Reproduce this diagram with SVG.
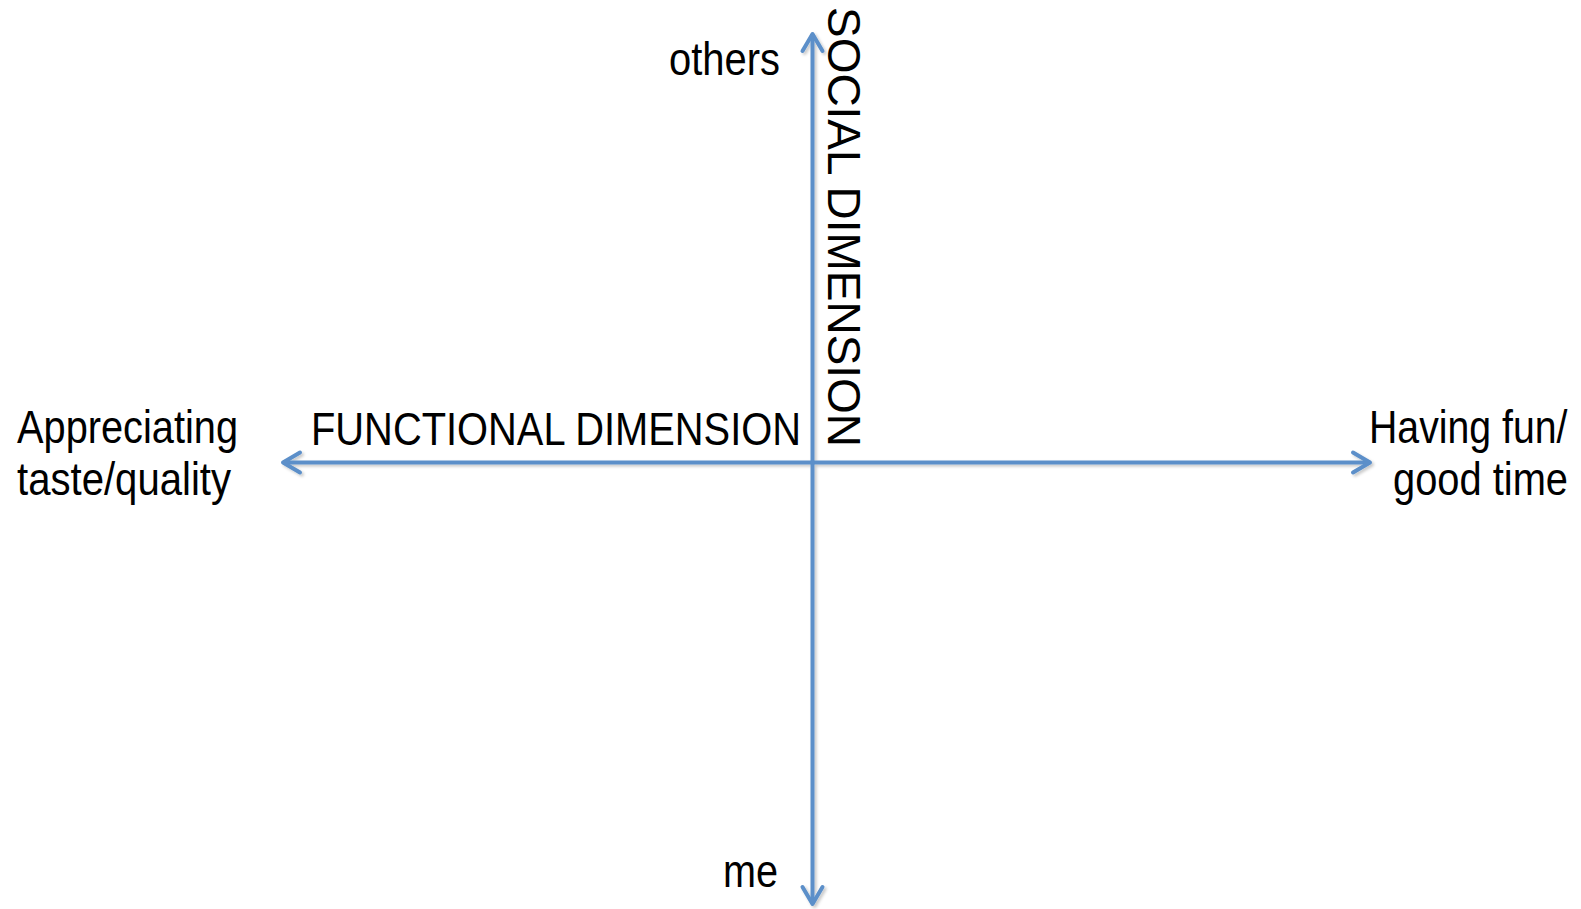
<svg xmlns="http://www.w3.org/2000/svg" width="1581" height="909" viewBox="0 0 1581 909">
<style>
.lbl{font-family:"Liberation Sans",Arial,Helvetica,sans-serif;font-size:47px;fill:#000;}
.axis{fill:none;stroke:#5B8FC9;stroke-width:4;}
.head{fill:none;stroke:#5B8FC9;stroke-width:4;stroke-linecap:round;stroke-linejoin:round;}
</style>
<defs>
<filter id="sh" x="-5%" y="-5%" width="110%" height="110%">
<feDropShadow dx="2" dy="2" stdDeviation="1.5" flood-color="#000" flood-opacity="0.22"/>
</filter>
<marker id="arr" viewBox="-22 -14 26 28" refX="0" refY="0" markerWidth="26" markerHeight="28" orient="auto-start-reverse" markerUnits="userSpaceOnUse">
<path class="head" d="M -17 -10 L 0 0 L -17 10"/>
</marker>
</defs>
<rect width="1581" height="909" fill="#fff"/>
<g id="connectors" filter="url(#sh)">
<line id="functional-axis" class="axis" x1="283" y1="462.5" x2="1370" y2="462.5" marker-start="url(#arr)" marker-end="url(#arr)"/>
<line id="social-axis" class="axis" x1="812.5" y1="34" x2="812.5" y2="904" marker-start="url(#arr)" marker-end="url(#arr)"/>
</g>
<g id="node-others"><text class="lbl" x="669" y="75" textLength="111" lengthAdjust="spacingAndGlyphs">others</text></g>
<g id="node-me"><text class="lbl" x="723" y="887" textLength="55" lengthAdjust="spacingAndGlyphs">me</text></g>
<g id="node-appreciating">
<text class="lbl" x="17" y="443" textLength="221" lengthAdjust="spacingAndGlyphs">Appreciating</text>
<text class="lbl" x="17" y="495" textLength="214" lengthAdjust="spacingAndGlyphs">taste/quality</text>
</g>
<g id="node-having-fun">
<text class="lbl" transform="translate(1369,443) scale(0.835,1)" x="0" y="0">Having fun/</text>
<text class="lbl" transform="translate(1393,495) scale(0.848,1)" x="0" y="0">good time</text>
</g>
<g id="label-functional"><text class="lbl" x="311" y="445" textLength="490" lengthAdjust="spacingAndGlyphs">FUNCTIONAL DIMENSION</text></g>
<g id="label-social"><text class="lbl" transform="translate(828,7) rotate(90)" x="0" y="0" textLength="440" lengthAdjust="spacingAndGlyphs">SOCIAL DIMENSION</text></g>
</svg>
